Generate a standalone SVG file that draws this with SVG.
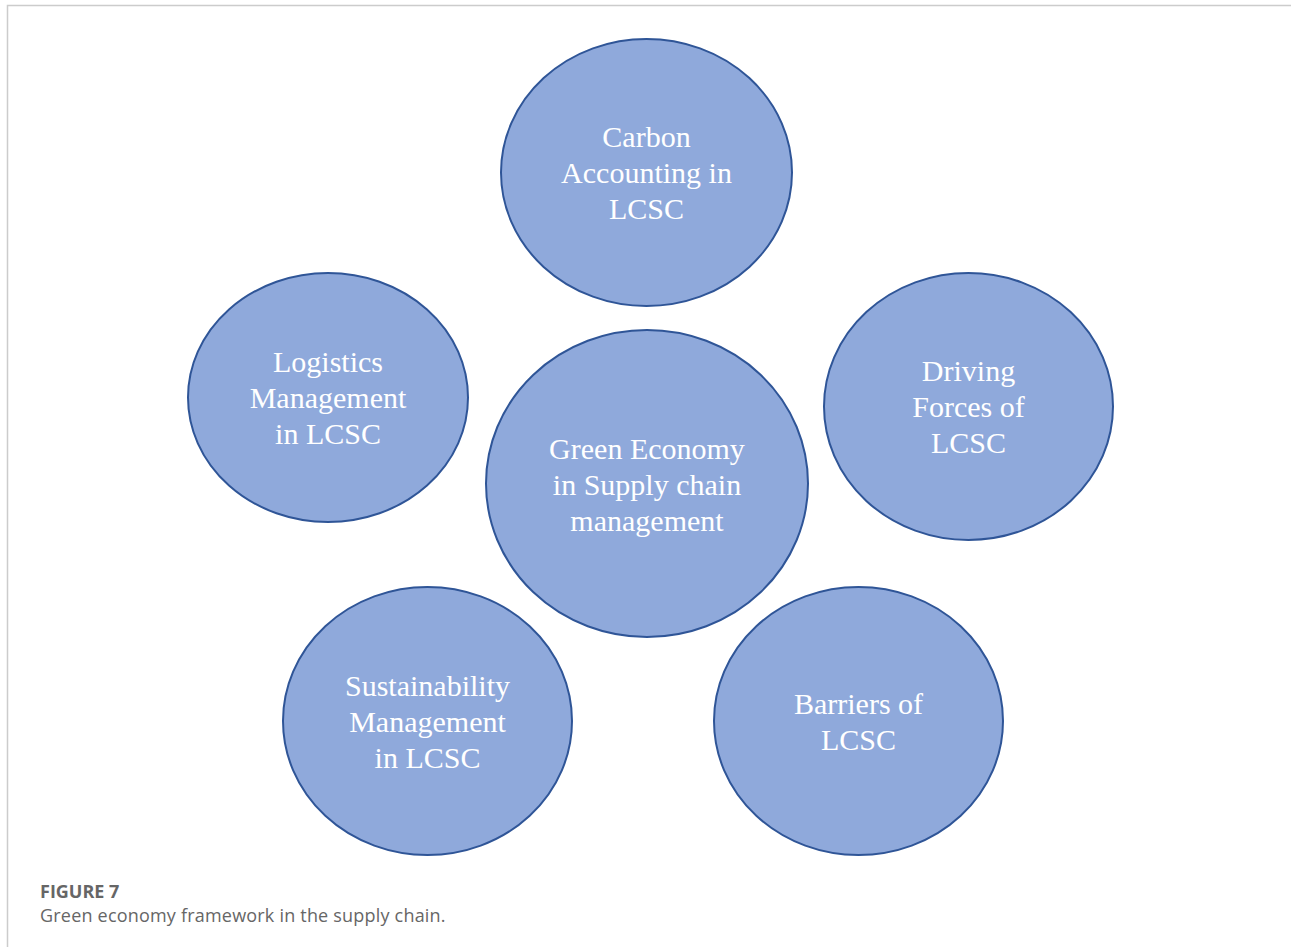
<svg xmlns="http://www.w3.org/2000/svg" width="1291" height="947" viewBox="0 0 1291 947">
<style>
.n{fill:#8FA9DB;stroke:#2F5597;stroke-width:2}
.t{font-family:"Liberation Serif","Times New Roman",serif;font-size:30px;fill:#ffffff;text-anchor:middle}
.cap{font-family:"Open Sans","Liberation Sans",sans-serif;fill:#666666;font-size:18px}
</style>
<rect width="1291" height="947" fill="#ffffff"/>
<path d="M7.5,947 V5.5 H1291" fill="none" stroke="#cccccc" stroke-width="1.5"/>
<g id="connectors"/>
<g id="carbon"><ellipse class="n" cx="646.5" cy="172.5" rx="145.5" ry="133.5"/>
<text class="t" x="646.5" y="147">Carbon</text><text class="t" x="646.5" y="183">Accounting in</text><text class="t" x="646.5" y="219">LCSC</text></g>
<g id="logistics"><ellipse class="n" cx="328" cy="397.5" rx="140" ry="124.5"/>
<text class="t" x="328" y="372">Logistics</text><text class="t" x="328" y="408">Management</text><text class="t" x="328" y="444">in LCSC</text></g>
<g id="driving"><ellipse class="n" cx="968.5" cy="406.5" rx="144.5" ry="133.5"/>
<text class="t" x="968.5" y="381">Driving</text><text class="t" x="968.5" y="417">Forces of</text><text class="t" x="968.5" y="453">LCSC</text></g>
<g id="center"><ellipse class="n" cx="647" cy="483.5" rx="161" ry="153.5"/>
<text class="t" x="647" y="459">Green Economy</text><text class="t" x="647" y="495">in Supply chain</text><text class="t" x="647" y="531">management</text></g>
<g id="sustainability"><ellipse class="n" cx="427.5" cy="721" rx="144.5" ry="134"/>
<text class="t" x="427.5" y="696">Sustainability</text><text class="t" x="427.5" y="732">Management</text><text class="t" x="427.5" y="768">in LCSC</text></g>
<g id="barriers"><ellipse class="n" cx="858.5" cy="721" rx="144.5" ry="134"/>
<text class="t" x="858.5" y="714">Barriers of</text><text class="t" x="858.5" y="750">LCSC</text></g>
<g id="caption">
<text class="cap" x="40" y="898" font-weight="bold">FIGURE 7</text>
<text class="cap" x="40" y="922" letter-spacing="0.2">Green economy framework in the supply chain.</text>
</g>
</svg>
